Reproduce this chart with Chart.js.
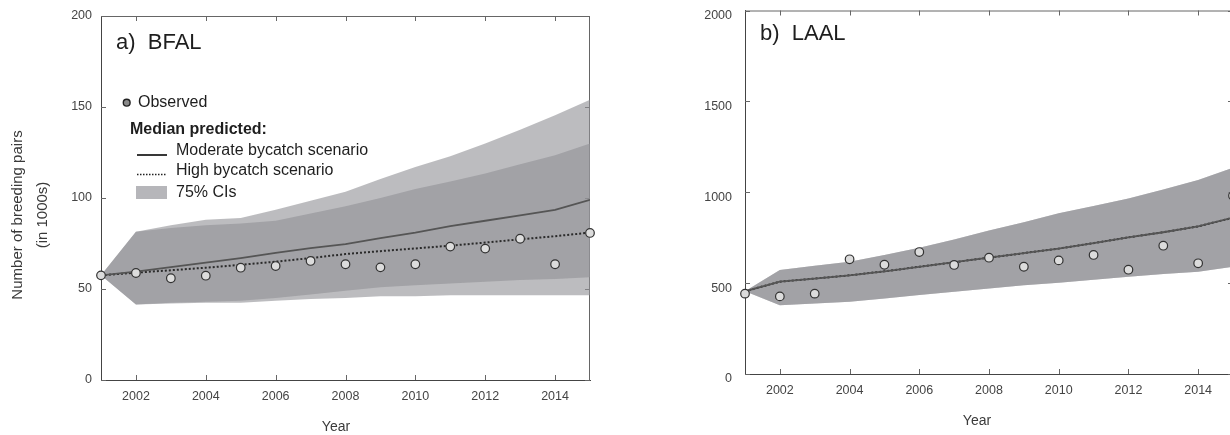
<!DOCTYPE html>
<html>
<head>
<meta charset="utf-8">
<script src="https://cdn.jsdelivr.net/npm/chart.js@4.4.0/dist/chart.umd.min.js"></script>
<style>
  html, body { margin: 0; padding: 0; background: #fff; overflow: hidden; }
  #wrap { position: relative; width: 1230px; height: 435px; overflow: hidden; }
  canvas { position: absolute; top: 0; }
</style>
</head>
<body>
<div id="wrap">
  <canvas id="chartBFAL" width="615" height="435" style="left:0"></canvas>
  <canvas id="chartLAAL" width="620" height="435" style="left:640px"></canvas>
</div>
<script>
// years and tick labels
const years = [2001, 2002, 2003, 2004, 2005, 2006, 2007, 2008, 2009, 2010, 2011, 2012, 2013, 2014, 2015];
const yearTicks = [2002, 2004, 2006, 2008, 2010, 2012, 2014];

// a) BFAL (in 1000s)
const bfalObserved = [57.5, 58.8, 55.9, 57.3, 61.7, 62.6, 65.4, 63.6, 61.9, 63.6, 73.3, 72.2, 77.6, 63.6, 80.8];
const bfalModerate = [57.5, 59.5, 62, 64.5, 67, 69.8, 72.5, 74.6, 78, 81, 84.5, 87.5, 90.5, 93.5, 99];
const bfalHigh = [57.5, 59, 60.3, 61.7, 63.3, 65, 67, 69.2, 70.8, 72.3, 73.8, 75.5, 77.3, 79, 81];
const bfalModUpper = [57.5, 81.5, 85, 88, 89, 93.5, 98.5, 103.5, 110.5, 117, 123, 130, 137.5, 145.5, 154];
const bfalModLower = [57.5, 41.5, 42.5, 43, 43.5, 45, 47, 49, 51, 52, 53, 54, 55, 55.5, 56.5];
const bfalHighUpper = [57.5, 81.5, 83.5, 85, 86, 87.5, 91.5, 95.5, 100, 105, 109, 113.5, 118.5, 123.5, 130];
const bfalHighLower = [57.5, 41.5, 42, 42.5, 42.5, 43.5, 44.5, 45, 46, 46, 46.5, 46.5, 46.5, 46.5, 46.5];
const bfalYTicks = [0, 50, 100, 150, 200];

// b) LAAL (in 1000s)
const laalObserved = [442, 427, 442, 631, 601, 671, 600, 640, 590, 625, 655, 574, 706, 609, 981];
const laalModerate = [455, 508, 525, 543, 565, 590, 615, 640, 665, 690, 720, 752, 780, 812, 860];
const laalHigh = [455, 508, 525, 543, 565, 590, 615, 640, 665, 690, 720, 752, 780, 812, 860];
const laalModUpper = [455, 572, 595, 618, 655, 695, 740, 790, 835, 884, 925, 965, 1015, 1067, 1135];
const laalModLower = [455, 378, 388, 398, 415, 435, 452, 471, 488, 502, 518, 535, 550, 563, 590];
const laalHighUpper = [455, 572, 595, 618, 655, 695, 740, 790, 835, 884, 925, 965, 1015, 1067, 1135];
const laalHighLower = [455, 378, 388, 398, 415, 435, 452, 471, 488, 502, 518, 535, 550, 563, 590];
const laalYTicks = [0, 500, 1000, 1500, 2000];

const FONT = "'Liberation Sans', Arial, Helvetica, sans-serif";
const BAND = "rgba(145,145,150,0.61)";
Chart.defaults.font.family = FONT;
Chart.defaults.color = "#444";

function xy(values) {
  return values.map((v, i) => ({ x: years[i], y: v }));
}

// MATLAB-like box with inward ticks on all four sides
const framePlugin = {
  id: "frame",
  beforeDatasetsDraw(chart) {
    const ctx = chart.ctx;
    const a = chart.chartArea;
    const xs = chart.scales.x;
    const ys = chart.scales.y;
    ctx.save();
    ctx.strokeStyle = "#666";
    ctx.lineWidth = 1;
    ctx.beginPath();
    ctx.moveTo(a.left, a.top + 0.5);
    ctx.lineTo(a.right, a.top + 0.5);
    ctx.moveTo(a.right - 0.5, a.top);
    ctx.lineTo(a.right - 0.5, a.bottom);
    xs.ticks.forEach(t => {
      const px = Math.round(xs.getPixelForValue(t.value)) + 0.5;
      ctx.moveTo(px, a.bottom);
      ctx.lineTo(px, a.bottom - 5);
      ctx.moveTo(px, a.top);
      ctx.lineTo(px, a.top + 5);
    });
    ys.ticks.forEach(t => {
      const py = Math.round(ys.getPixelForValue(t.value)) + 0.5;
      ctx.moveTo(a.left, py);
      ctx.lineTo(a.left + 5, py);
      ctx.moveTo(a.right, py);
      ctx.lineTo(a.right - 5, py);
    });
    ctx.stroke();
    ctx.restore();
  }
};

// panel label and axis titles
const textPlugin = {
  id: "panelText",
  afterDraw(chart, args, opts) {
    const ctx = chart.ctx;
    ctx.save();
    ctx.textBaseline = "middle";
    ctx.fillStyle = "#1e1e1e";
    ctx.font = "22px " + FONT;
    ctx.textAlign = "left";
    ctx.fillText(opts.label, opts.labelX, opts.labelY);

    ctx.fillStyle = "#3a3a3a";
    ctx.font = "14px " + FONT;
    ctx.textAlign = "center";
    ctx.fillText("Year", opts.xTitleX, opts.xTitleY);

    if (opts.yTitle) {
      ctx.font = "15px " + FONT;
      opts.yTitle.forEach((line, i) => {
        ctx.save();
        ctx.translate(18 + i * 25, 215);
        ctx.rotate(-Math.PI / 2);
        ctx.fillText(line, 0, 0);
        ctx.restore();
      });
    }
    ctx.restore();
  }
};

const legendPlugin = {
  id: "customLegend",
  afterDraw(chart) {
    const ctx = chart.ctx;
    ctx.save();
    ctx.textBaseline = "middle";
    ctx.textAlign = "left";

    ctx.beginPath();
    ctx.arc(126.7, 102.7, 3.4, 0, Math.PI * 2);
    ctx.fillStyle = "#8a8a8a";
    ctx.fill();
    ctx.strokeStyle = "#222";
    ctx.lineWidth = 1.4;
    ctx.stroke();

    ctx.fillStyle = "#1e1e1e";
    ctx.font = "16px " + FONT;
    ctx.fillText("Observed", 138, 103);
    ctx.font = "bold 16px " + FONT;
    ctx.fillText("Median predicted:", 130, 130);
    ctx.font = "16px " + FONT;
    ctx.fillText("Moderate bycatch scenario", 176, 151);
    ctx.fillText("High bycatch scenario", 176, 171);
    ctx.fillText("75% CIs", 176, 193);

    ctx.strokeStyle = "#222";
    ctx.lineWidth = 1.8;
    ctx.beginPath();
    ctx.moveTo(137, 155);
    ctx.lineTo(167, 155);
    ctx.stroke();

    ctx.lineWidth = 1.6;
    ctx.setLineDash([1.5, 1.5]);
    ctx.beginPath();
    ctx.moveTo(137, 174.5);
    ctx.lineTo(167, 174.5);
    ctx.stroke();
    ctx.setLineDash([]);

    ctx.fillStyle = "#b6b6ba";
    ctx.fillRect(136, 186, 31, 13);
    ctx.restore();
  }
};

function makeDatasets(obs, mod, high, modUp, modLo, highUp, highLo) {
  const band = {
    borderWidth: 0,
    pointRadius: 0,
    backgroundColor: BAND,
    tension: 0,
    order: 2
  };
  return [
    {
      label: "Observed",
      data: xy(obs),
      showLine: false,
      pointRadius: 4.3,
      pointBackgroundColor: "#dcdcdc",
      pointBorderColor: "#333",
      pointBorderWidth: 1.2,
      clip: false,
      order: 0
    },
    {
      label: "Moderate bycatch scenario",
      data: xy(mod),
      borderColor: "#555",
      borderWidth: 1.8,
      pointRadius: 0,
      tension: 0,
      fill: false,
      order: 1
    },
    {
      label: "High bycatch scenario",
      data: xy(high),
      borderColor: "#2a2a2a",
      borderWidth: 2,
      borderDash: [2, 2],
      pointRadius: 0,
      tension: 0,
      fill: false,
      order: 1
    },
    Object.assign({ label: "75% CI moderate upper", data: xy(modUp), fill: "+1" }, band),
    Object.assign({ label: "75% CI moderate lower", data: xy(modLo), fill: false }, band),
    Object.assign({ label: "75% CI high upper", data: xy(highUp), fill: "+1" }, band),
    Object.assign({ label: "75% CI high lower", data: xy(highLo), fill: false }, band)
  ];
}

// tick gaps go in an invisible tickLength so they don't push the plot area down
function makeOptions(yMax, yTicks, yWidth, xHeight, padTop, padRight, yGap, yLabelOffset, text) {
  return {
    responsive: false,
    animation: false,
    layout: { padding: { left: 0, top: padTop, right: padRight, bottom: 0 } },
    scales: {
      x: {
        type: "linear",
        min: 2001,
        max: 2015,
        afterBuildTicks(scale) {
          scale.ticks = yearTicks.map(v => ({ value: v }));
        },
        afterFit(scale) {
          scale.height = xHeight;
        },
        ticks: {
          callback: v => String(v),
          padding: 0,
          maxRotation: 0,
          autoSkip: false,
          color: "#444",
          font: { size: 12.5 }
        },
        grid: { drawOnChartArea: false, drawTicks: true, tickLength: 9, tickColor: "rgba(0,0,0,0)" },
        border: { color: "#444", width: 1 }
      },
      y: {
        min: 0,
        max: yMax,
        afterBuildTicks(scale) {
          scale.ticks = yTicks.map(v => ({ value: v }));
        },
        afterFit(scale) {
          scale.width = yWidth;
        },
        ticks: {
          callback: v => String(v),
          padding: 0,
          labelOffset: yLabelOffset,
          color: "#444",
          font: { size: 12.5 }
        },
        grid: { drawOnChartArea: false, drawTicks: true, tickLength: yGap, tickColor: "rgba(0,0,0,0)" },
        border: { color: "#444", width: 1 }
      }
    },
    plugins: {
      legend: { display: false },
      tooltip: { enabled: false },
      panelText: text
    }
  };
}

const chartBFAL = new Chart("chartBFAL", {
  type: "line",
  data: {
    datasets: makeDatasets(bfalObserved, bfalModerate, bfalHigh,
      bfalModUpper, bfalModLower, bfalHighUpper, bfalHighLower)
  },
  options: makeOptions(200, bfalYTicks, 101, 55, 16, 25, 9, 0, {
    label: "a)  BFAL", labelX: 116, labelY: 43,
    xTitleX: 336, xTitleY: 427,
    yTitle: ["Number of breeding pairs", "(in 1000s)"]
  }),
  plugins: [framePlugin, textPlugin, legendPlugin]
});

const chartLAAL = new Chart("chartLAAL", {
  type: "line",
  data: {
    datasets: makeDatasets(laalObserved, laalModerate, laalHigh,
      laalModUpper, laalModLower, laalHighUpper, laalHighLower)
  },
  options: makeOptions(2000, laalYTicks, 105, 61, 10.5, 27, 13, 5, {
    label: "b)  LAAL", labelX: 120, labelY: 34,
    xTitleX: 337, xTitleY: 421
  }),
  plugins: [framePlugin, textPlugin]
});
</script>
</body>
</html>
